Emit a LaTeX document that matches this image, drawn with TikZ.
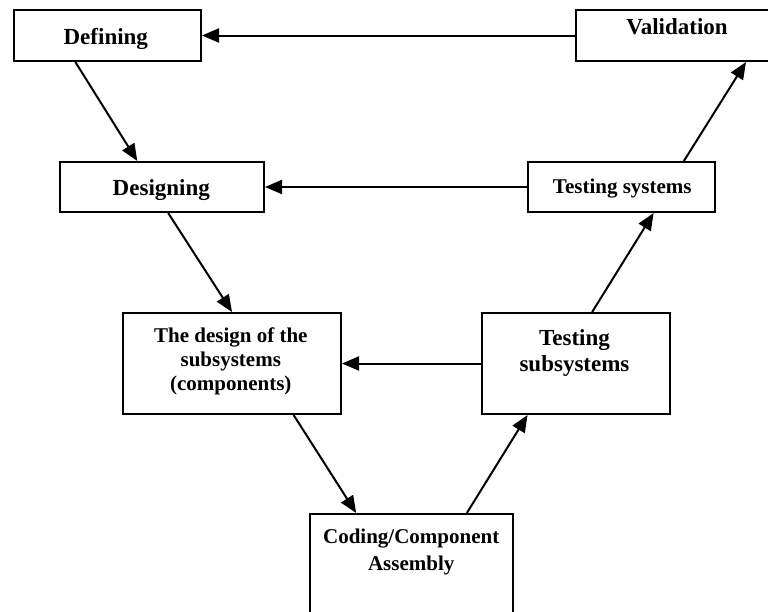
\documentclass[tikz,border=0pt]{standalone}
\usepackage{fontspec}
\setmainfont{Liberation Serif}
\usetikzlibrary{arrows.meta,calc}
\tikzset{
  box/.style={draw=black, line width=2pt, fill=white, inner sep=0pt, anchor=north west},
  lbl/.style={inner sep=0pt, anchor=base, font=\bfseries},
  big/.style={lbl, font=\fontsize{23}{27}\selectfont\bfseries},
  small/.style={lbl, font=\fontsize{21}{25}\selectfont\bfseries},
  conn/.style={line width=2pt, -{Triangle[length=17pt,width=14pt]}}
}
\begin{document}
\begin{tikzpicture}[x=1pt,y=-1pt]
\useasboundingbox (0,0) rectangle (768,611);
\clip (0,0) rectangle (768,611);
% boxes
\node[box, minimum width=187pt, minimum height=51pt] (def) at (13,9) {};
\node[box, minimum width=204pt, minimum height=51pt] (val) at (575,9) {};
\node[box, minimum width=204pt, minimum height=50pt] (des) at (59,161) {};
\node[box, minimum width=187pt, minimum height=50pt] (tsys) at (527,161) {};
\node[box, minimum width=218pt, minimum height=101pt] (dsub) at (122,312) {};
\node[box, minimum width=188pt, minimum height=101pt] (tsub) at (481,312) {};
\node[box, minimum width=203pt, minimum height=130pt] (cod) at (309,513) {};
% texts
\node[big] (tdef) at (105.8,44) {Defining};
\node[big] (tval) at (677,34.3) {Validation};
\node[big] (tdes) at (161.3,195) {Designing};
\node[small] (ttsys) at (622.3,193) {Testing systems};
\node[small] (tdsub1) at (230.8,342) {The design of the};
\node[small] (tdsub2) at (230.8,366) {subsystems};
\node[small] (tdsub3) at (230.8,390) {(components)};
\node[big] (ttsub1) at (574.5,345) {Testing};
\node[big] (ttsub2) at (574.5,371.7) {subsystems};
\node[small] (tcod1) at (411.2,543.3) {Coding/Component};
\node[small] (tcod2) at (411.2,570) {Assembly};
% connectors
\draw[conn] (val.west) -- (def.east);
\draw[conn] (tsys.west) -- (des.east);
\draw[conn] (tsub.west) -- (dsub.east);
\draw[conn] ($(def.south west)!0.33!(def.south east)$) -- ($(des.north west)!0.38!(des.north east)$);
\draw[conn] ($(des.south west)!0.53!(des.south east)$) -- ($(dsub.north west)!0.5!(dsub.north east)$);
\draw[conn] ($(dsub.south west)!0.78!(dsub.south east)$) -- ($(cod.north west)!0.23!(cod.north east)$);
\draw[conn] ($(cod.north west)!0.77!(cod.north east)$) -- ($(tsub.south west)!0.245!(tsub.south east)$);
\draw[conn] ($(tsub.north west)!0.585!(tsub.north east)$) -- ($(tsys.south west)!0.67!(tsys.south east)$);
\draw[conn] ($(tsys.north west)!0.83!(tsys.north east)$) -- ($(val.south west)!0.83!(val.south east)$);
\end{tikzpicture}
\end{document}
